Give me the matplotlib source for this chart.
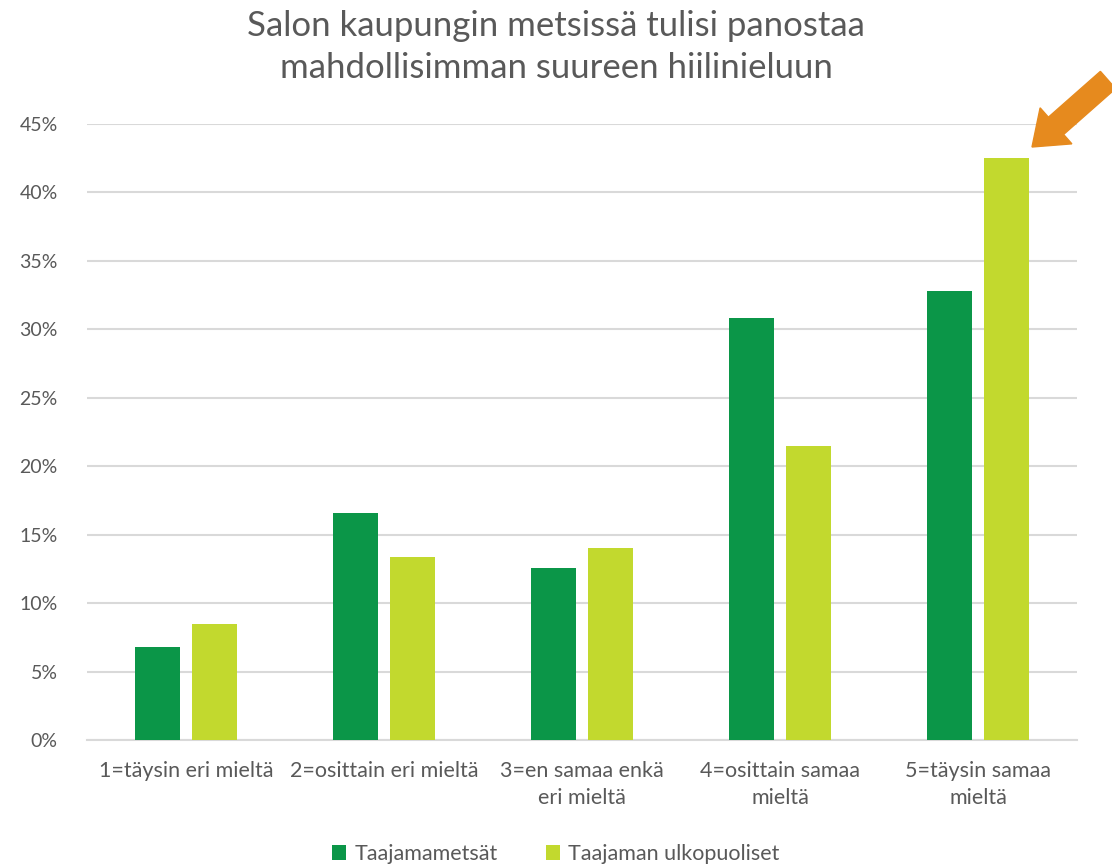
import matplotlib
matplotlib.use("Agg")
import matplotlib.pyplot as plt
import numpy as np
from matplotlib.ticker import FuncFormatter
from matplotlib.patches import FancyArrow

plt.rcParams['font.family'] = ['Lato', 'DejaVu Sans']

categories = ["1=täysin eri mieltä", "2=osittain eri mieltä", "3=en samaa enkä\neri mieltä",
              "4=osittain samaa\nmieltä", "5=täysin samaa\nmieltä"]
series_names = ["Taajamametsät", "Taajaman ulkopuoliset"]
taajama = [6.8, 16.6, 12.6, 30.8, 32.8]
ulkopuoliset = [8.5, 13.4, 14.0, 21.5, 42.5]
yticks = [0, 5, 10, 15, 20, 25, 30, 35, 40, 45]
title = "Salon kaupungin metsissä tulisi panostaa\nmahdollisimman suureen hiilinieluun"

dark = "#0B9648"
light = "#C2D92E"
text_gray = "#595959"

fig = plt.figure(figsize=(11.12, 8.64), dpi=100)
ax = fig.add_axes([87/1112, 1-740/864, (1077-87)/1112, (740-124)/864])

x = np.arange(len(categories))
w = 0.227
off = 0.144
ax.bar(x - off, taajama, width=w, color=dark, label=series_names[0], zorder=3)
ax.bar(x + off, ulkopuoliset, width=w, color=light, label=series_names[1], zorder=3)

ax.set_xlim(-0.5, len(categories) - 0.5)
ax.set_ylim(0, 45)
ax.set_yticks(yticks)
ax.yaxis.set_major_formatter(FuncFormatter(lambda v, p: f"{int(v)}%"))
ax.set_xticks(x)
ax.set_xticklabels(categories, fontsize=15.5, color=text_gray, linespacing=1.45)
ax.tick_params(axis='y', labelsize=14, colors=text_gray, length=0, pad=21)
ax.tick_params(axis='x', length=0, pad=15)
ax.grid(axis='y', color="#D9D9D9", linewidth=1.5, zorder=0)
ax.set_axisbelow(True)
for s in ['top', 'right', 'left']:
    ax.spines[s].set_visible(False)
ax.spines['bottom'].set_color("#D9D9D9")
ax.spines['bottom'].set_linewidth(1.5)

fig.text(0.5, 1-47/864, title, ha='center', va='center', fontsize=25, color=text_gray, linespacing=1.4)

leg = fig.legend(loc='center', bbox_to_anchor=(0.5, 1-854/864), ncol=2, frameon=False,
                 fontsize=15.5, handlelength=0.65, handleheight=0.65, handletextpad=0.4,
                 columnspacing=2.2)
for t in leg.get_texts():
    t.set_color(text_gray)

# orange arrow pointing at the highest bar (coordinates in inches)
arr = FancyArrow(11.08, 8.64 - 0.80, -0.76, -0.67, width=0.23,
                 head_width=0.48, head_length=0.32, length_includes_head=True,
                 color="#E68A1E", transform=fig.dpi_scale_trans, figure=fig)
fig.patches.append(arr)

fig.savefig("out.png", dpi=100, facecolor='white')
